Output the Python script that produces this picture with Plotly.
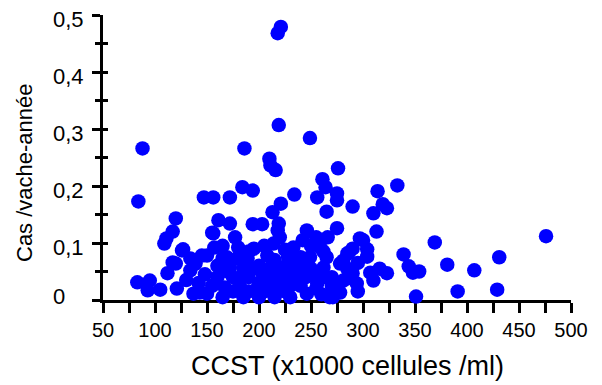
import plotly.graph_objects as go

# CCST (x1000 cellules/ml) and Cas/vache-année
ccst = [218, 221, 219, 249, 88, 186, 84, 210, 211, 216, 276, 261, 264, 275, 275, 256, 265, 234, 221, 213,
        219, 220, 214, 208, 194, 184, 172, 156, 147, 120, 117, 111, 109, 161, 172, 177, 156, 194, 203, 157,
        150, 127, 120, 112, 83, 95, 93, 105, 121, 137, 134, 139, 145, 169, 179, 189, 172, 165, 150, 204,
        211, 223, 233, 242, 246, 259, 266, 275, 285, 278, 262, 249, 242, 230, 268, 281, 275, 256, 246, 217,
        198, 182, 167,
        290, 314, 333, 310, 319, 323, 313, 297, 300, 304, 304, 286, 281, 339, 344, 348, 354, 369, 381, 407,
        431, 476, 391, 429, 351, 316, 323, 310, 307, 294, 285, 278, 271, 290,
        126, 134, 117, 143, 155, 165, 160, 175, 190, 185, 200, 215, 212, 225, 235, 240, 255, 262, 265, 270,
        228, 235, 250, 255, 225, 200, 185, 160, 148, 142, 130, 165, 180, 195, 200, 190, 175, 155, 250, 295,
        290, 295, 218,
        180, 170, 195, 210, 220, 230, 245, 260, 270, 285, 240, 215, 190, 205, 230, 262, 205, 225, 255]
cas = [0.468, 0.479, 0.307, 0.284, 0.266, 0.266, 0.173, 0.248, 0.236, 0.228, 0.231, 0.212, 0.198, 0.187, 0.175, 0.180, 0.155, 0.185, 0.169, 0.154,
       0.134, 0.110, 0.099, 0.078, 0.192, 0.198, 0.180, 0.180, 0.180, 0.143, 0.120, 0.108, 0.099, 0.140, 0.134, 0.110, 0.117, 0.133, 0.133, 0.092,
       0.078, 0.089, 0.064, 0.047, 0.031, 0.034, 0.017, 0.018, 0.020, 0.011, 0.052, 0.064, 0.078, 0.075, 0.073, 0.073, 0.057, 0.005, 0.011, 0.043,
       0.057, 0.057, 0.092, 0.105, 0.122, 0.092, 0.110, 0.126, 0.082, 0.064, 0.057, 0.075, 0.057, 0.005, 0.005, 0.034, 0.022, 0.029, 0.011, 0.022,
       0.020, 0.022, 0.022,
       0.164, 0.191, 0.201, 0.152, 0.168, 0.161, 0.120, 0.108, 0.105, 0.089, 0.076, 0.082, 0.069, 0.080, 0.059, 0.048, 0.050, 0.101, 0.062, 0.052,
       0.075, 0.112, 0.015, 0.018, 0.006, 0.055, 0.047, 0.034, 0.048, 0.029, 0.038, 0.013, 0.005, 0.047,
       0.087, 0.073, 0.066, 0.013, 0.118, 0.073, 0.040, 0.040, 0.040, 0.005, 0.005, 0.005, 0.040, 0.035, 0.040, 0.025, 0.045, 0.040, 0.075, 0.040,
       0.075, 0.065, 0.095, 0.110, 0.088, 0.060, 0.055, 0.060, 0.045, 0.030, 0.035, 0.095, 0.092, 0.090, 0.030, 0.015, 0.015, 0.025, 0.055, 0.065,
       0.090, 0.015, 0.122,
       0.035, 0.050, 0.055, 0.025, 0.045, 0.025, 0.040, 0.010, 0.025, 0.055, 0.075, 0.070, 0.085, 0.095, 0.050, 0.085, 0.015, 0.015, 0.020]

x_tickvals = [50, 100, 150, 200, 250, 300, 350, 400, 450, 500]
y_tickvals = [0, 0.1, 0.2, 0.3, 0.4, 0.5]
y_ticktext = ["0", "0,1", "0,2", "0,3", "0,4", "0,5"]
x_title = "CCST (x1000 cellules /ml)"
y_title = "Cas /vache-année"

FONT = "Liberation Sans, Arial, sans-serif"

fig = go.Figure()
fig.add_trace(go.Scatter(
    x=ccst, y=cas, mode="markers",
    marker=dict(color="#0000FF", size=14.5, line=dict(width=0)),
    cliponaxis=False, showlegend=False, hoverinfo="skip"))
fig.add_trace(go.Scatter(x=[None], y=[None], yaxis="y2", showlegend=False, hoverinfo="skip"))

# y tick labels: left-aligned, hanging just below their tick (the "0" sits above the axis)
annotations = []
for v, t in zip(y_tickvals, y_ticktext):
    annotations.append(dict(text=t, xref="paper", yref="y", x=-0.1118, y=v, xanchor="left",
                            yanchor="middle", yshift=(4 if v == 0 else -4.5), showarrow=False,
                            font=dict(size=22, family=FONT)))
annotations += [
    dict(text=x_title, xref="paper", yref="paper", x=0.5224, y=-0.2316, xanchor="center", yanchor="middle",
         showarrow=False, font=dict(size=27, family=FONT)),
    dict(text=y_title, xref="paper", yref="paper", x=-0.1688, y=0.4456, xanchor="center", yanchor="middle",
         textangle=-90, showarrow=False, font=dict(size=22, family=FONT)),
]

fig.update_layout(
    width=594, height=377,
    margin=dict(l=95, r=31, t=7, b=85, autoexpand=False),
    plot_bgcolor="white", paper_bgcolor="white",
    font=dict(family=FONT, color="black"),
    xaxis=dict(range=[50, 500], tickvals=x_tickvals, ticks="outside", ticklen=10, tickwidth=2.5,
               tickcolor="black", showline=True, linewidth=3, linecolor="black",
               showgrid=False, zeroline=False, layer="below traces", automargin=False,
               tickfont=dict(size=20, family=FONT),
               minor=dict(dtick=25, tick0=25, ticks="outside", ticklen=10, tickwidth=2.5, tickcolor="black")),
    yaxis=dict(range=[0, 0.5], tickvals=y_tickvals, showticklabels=False, ticks="outside", ticklen=8,
               tickwidth=2.5, tickcolor="black", showline=True, linewidth=3, linecolor="black",
               showgrid=False, zeroline=False, layer="below traces", automargin=False,
               minor=dict(dtick=0.05, tick0=0, ticks="outside", ticklen=5, tickwidth=2.5, tickcolor="black")),
    yaxis2=dict(range=[0, 0.5], overlaying="y", side="left", tickvals=y_tickvals, ticks="inside",
                ticklen=5, tickwidth=2.5, tickcolor="black", showticklabels=False, showline=False,
                showgrid=False, zeroline=False, layer="below traces", automargin=False,
                minor=dict(dtick=0.05, tick0=0, ticks="inside", ticklen=5, tickwidth=2.5, tickcolor="black")),
    annotations=annotations,
)

fig.write_html("out.html")
